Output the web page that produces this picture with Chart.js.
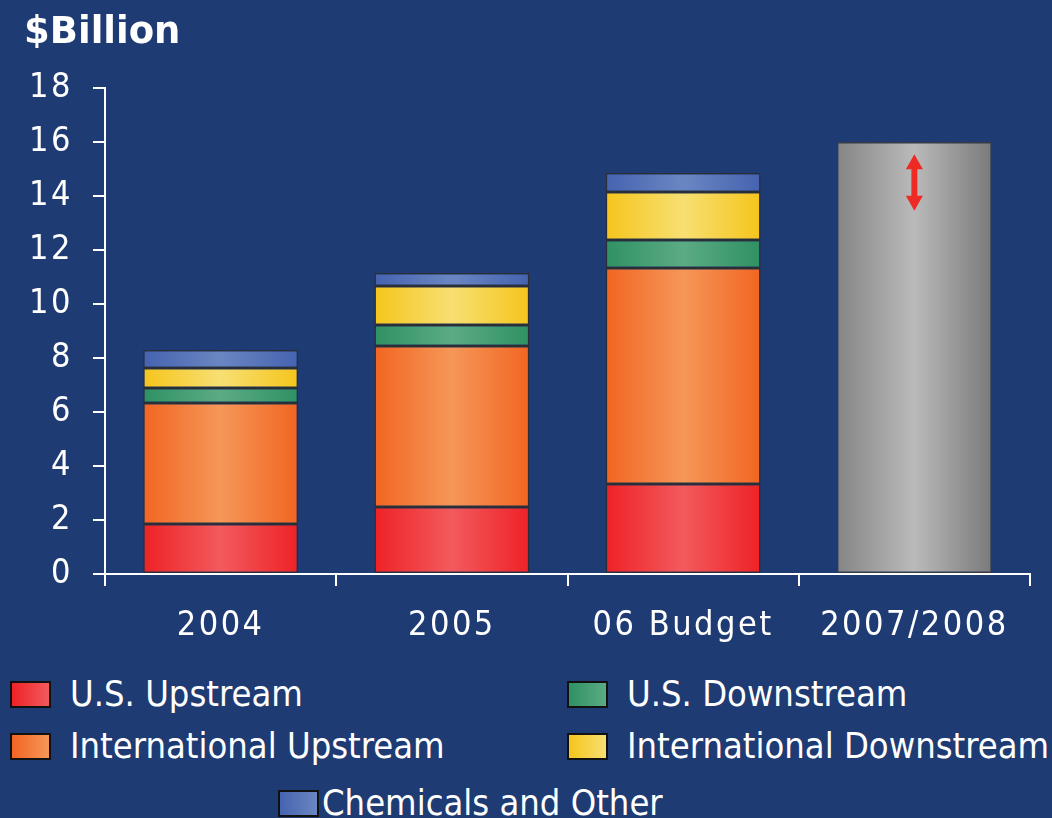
<!DOCTYPE html>
<html>
<head>
<meta charset="utf-8">
<script src="https://cdn.jsdelivr.net/npm/chart.js@4"></script>
<style>
  html, body { margin: 0; padding: 0; background: #1f3b73; }
  #wrap { position: relative; width: 1052px; height: 818px; overflow: hidden; }
  #title { position: absolute; left: 24px; top: 9px; color: #fff; font: bold 37px "DejaVu Sans", sans-serif; }
  #chart { position: absolute; left: 0; top: 0; }
  .item { position: absolute; color: #fff; font: 36px "DejaVu Sans Condensed", "DejaVu Sans", sans-serif; white-space: nowrap; }
  .sw { position: absolute; width: 37px; height: 23px; border: 2px solid #111; }
</style>
</head>
<body>
<div id="wrap">
  <canvas id="chart" width="1052" height="660"></canvas>
  <div id="title">$Billion</div>
  <div id="legend"></div>
</div>
<script>
// chart data
const categories = ['2004', '2005', '06 Budget', '2007/2008'];
const usUpstream = [1.85, 2.48, 3.33, null];
const intlUpstream = [4.48, 5.96, 8.0, null];
const usDownstream = [0.56, 0.78, 1.04, null];
const intlDownstream = [0.74, 1.45, 1.78, null];
const chemicals = [0.67, 0.48, 0.70, null];
const outlook = [null, null, null, 16];
const outlookRange = [13.45, 15.55]; // red arrow on the last bar

const tickFont = '"DejaVu Sans Condensed", "DejaVu Sans", sans-serif';
const barPct = 0.67;

// horizontal "cylinder" gradient for each bar
function barGradient(edgeL, mid, edgeR) {
    return function(context) {
        const chart = context.chart;
        const x = chart.scales && chart.scales.x;
        if (!x || context.dataIndex == null) return mid;
        const cx = x.getPixelForValue(context.dataIndex);
        const w = x.width / categories.length * barPct;
        if (!isFinite(cx) || !isFinite(w) || w <= 0) return mid;
        const g = chart.ctx.createLinearGradient(cx - w / 2, 0, cx + w / 2, 0);
        g.addColorStop(0, edgeL);
        g.addColorStop(0.5, mid);
        g.addColorStop(1, edgeR || edgeL);
        return g;
    };
}

const series = [
    { label: 'U.S. Upstream', data: usUpstream, edge: '#ee2226', mid: '#f25a5d' },
    { label: 'International Upstream', data: intlUpstream, edge: '#f26522', mid: '#f59758' },
    { label: 'U.S. Downstream', data: usDownstream, edge: '#2f9163', mid: '#5cab85' },
    { label: 'International Downstream', data: intlDownstream, edge: '#f5c51c', mid: '#f7df72' },
    { label: 'Chemicals and Other', data: chemicals, edge: '#4563b0', mid: '#6a86c2' }
];

const datasets = series.map(s => ({
    label: s.label,
    data: s.data,
    backgroundColor: barGradient(s.edge, s.mid),
    borderColor: 'rgba(45,45,45,0.85)',
    borderWidth: 1.5,
    borderSkipped: false
}));
datasets.push({
    label: 'Outlook',
    data: outlook,
    backgroundColor: barGradient('#858585', '#bababa', '#7a7a7a'),
    borderColor: 'rgba(60,60,60,0.9)',
    borderWidth: 1.5,
    borderSkipped: false
});

// red double arrow over the 2007/2008 bar
const arrowPlugin = {
    id: 'arrow',
    afterDatasetsDraw(chart) {
        const ctx = chart.ctx;
        const x = chart.scales.x.getPixelForValue(3);
        const y1 = chart.scales.y.getPixelForValue(outlookRange[1]);
        const y0 = chart.scales.y.getPixelForValue(outlookRange[0]);
        const head = 15;
        ctx.save();
        ctx.fillStyle = '#ee2a24';
        ctx.fillRect(x - 3, y1 + head - 2, 6, (y0 - y1) - 2 * head + 4);
        ctx.beginPath();
        ctx.moveTo(x, y1);
        ctx.lineTo(x - 8.5, y1 + head);
        ctx.lineTo(x + 8.5, y1 + head);
        ctx.closePath();
        ctx.fill();
        ctx.beginPath();
        ctx.moveTo(x, y0);
        ctx.lineTo(x - 8.5, y0 - head);
        ctx.lineTo(x + 8.5, y0 - head);
        ctx.closePath();
        ctx.fill();
        ctx.restore();
    }
};

// spaced-out axis labels
const spacingPlugin = {
    id: 'spacing',
    beforeDraw(chart) { chart.ctx.letterSpacing = '2.5px'; },
    afterDraw(chart) { chart.ctx.letterSpacing = '0px'; }
};

new Chart(document.getElementById('chart'), {
    type: 'bar',
    data: { labels: categories, datasets: datasets },
    plugins: [arrowPlugin, spacingPlugin],
    options: {
        responsive: false,
        animation: false,
        layout: { padding: { top: 88, right: 22, left: 0, bottom: 0 } },
        datasets: { bar: { categoryPercentage: 1, barPercentage: barPct } },
        plugins: { legend: { display: false }, tooltip: { enabled: false } },
        scales: {
            x: {
                stacked: true,
                offset: true,
                afterFit(scale) { scale.height = 86; },
                grid: { offset: true, drawOnChartArea: false, color: '#fff', lineWidth: 2, tickLength: 12 },
                border: { color: '#fff', width: 2 },
                ticks: { color: '#fff', font: { family: tickFont, size: 34 }, padding: 20 }
            },
            y: {
                stacked: true,
                min: 0,
                max: 18,
                afterFit(scale) { scale.width = 105; },
                grid: { drawOnChartArea: false, color: '#fff', lineWidth: 2, tickLength: 12 },
                border: { color: '#fff', width: 2 },
                ticks: { stepSize: 2, color: '#fff', font: { family: tickFont, size: 34 }, padding: 20 }
            }
        }
    }
});

// legend laid out like the original (two columns + centered last row)
const legendPos = [
    { sx: 10, sy: 681, tx: 70 },
    { sx: 10, sy: 733, tx: 70 },
    { sx: 567, sy: 681, tx: 627 },
    { sx: 567, sy: 733, tx: 627 },
    { sx: 278, sy: 790, tx: 322 }
];
const legend = document.getElementById('legend');
series.forEach((s, i) => {
    const p = legendPos[i];
    const sw = document.createElement('div');
    sw.className = 'sw';
    sw.style.left = p.sx + 'px';
    sw.style.top = p.sy + 'px';
    sw.style.background = 'linear-gradient(to right, ' + s.edge + ', ' + s.mid + ')';
    legend.appendChild(sw);
    const t = document.createElement('div');
    t.className = 'item';
    t.textContent = s.label;
    t.style.left = p.tx + 'px';
    t.style.top = (p.sy - 8) + 'px';
    legend.appendChild(t);
});
</script>
</body>
</html>
